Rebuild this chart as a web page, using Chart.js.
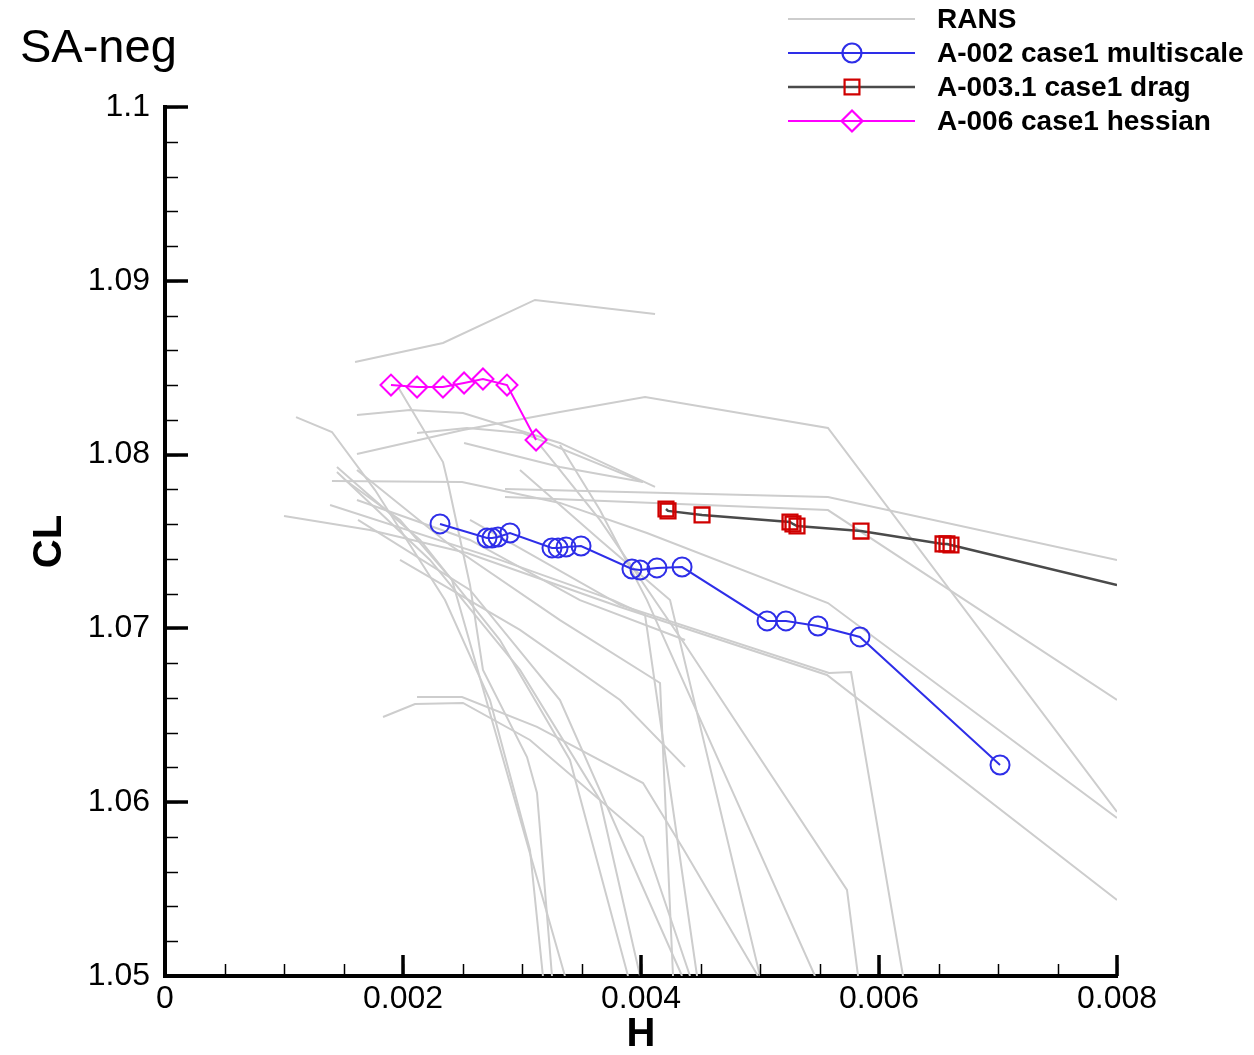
<!DOCTYPE html>
<html>
<head>
<meta charset="utf-8">
<script src="https://cdn.jsdelivr.net/npm/chart.js@4/dist/chart.umd.min.js"></script>
<style>
  html, body { margin: 0; padding: 0; background: #ffffff; }
  #wrap { width: 1254px; height: 1055px; position: relative; }
</style>
</head>
<body>
<div id="wrap"><canvas id="chart" width="1254" height="1055"></canvas></div>
<script>
// ---------------- data ----------------
const X_TICKS = [0, 0.002, 0.004, 0.006, 0.008];
const Y_TICKS = [1.05, 1.06, 1.07, 1.08, 1.09, 1.1];
const X_MINOR_STEP = 0.0005;
const Y_MINOR_STEP = 0.002;

const LEGEND_LABELS = ['RANS', 'A-002 case1 multiscale', 'A-003.1 case1 drag', 'A-006 case1 hessian'];

const A002_H  = [0.002311, 0.002706, 0.002748, 0.002798, 0.002899, 0.003252, 0.003303, 0.003370, 0.003496,
                 0.003924, 0.003992, 0.004134, 0.004345, 0.005059, 0.005218, 0.005487, 0.005840, 0.007017];
const A002_CL = [1.07601, 1.07520, 1.07520, 1.07526, 1.07549, 1.07463, 1.07463, 1.07468, 1.07474,
                 1.07342, 1.07336, 1.07348, 1.07353, 1.07043, 1.07043, 1.07014, 1.06951, 1.06214];

const A003_H  = [0.004210, 0.004227, 0.004513, 0.005252, 0.005277, 0.005311, 0.005849, 0.006538, 0.006571, 0.006605, 0.008];
const A003_CL = [1.07687, 1.07676, 1.07653, 1.07612, 1.07601, 1.07589, 1.07560, 1.07486, 1.07486, 1.07480, 1.07250];

const A006_H  = [0.001899, 0.002118, 0.002336, 0.002513, 0.002672, 0.002874, 0.003118];
const A006_CL = [1.08400, 1.08389, 1.08389, 1.08412, 1.08435, 1.08400, 1.08084];

// RANS curves: [H, CL] pairs
const RANS_CURVES = [
  [[0.001597,1.08533],[0.002336,1.08642],[0.003109,1.08890],[0.004118,1.08809]],
  [[0.001613,1.08228],[0.002059,1.08257],[0.002504,1.08239],[0.003319,1.08067],[0.004118,1.07814]],
  [[0.001613,1.08003],[0.002504,1.08142],[0.003319,1.08245],[0.004034,1.08331],[0.005571,1.08153],[0.008,1.05944]],
  [[0.002118,1.08124],[0.002538,1.08153],[0.003008,1.08124],[0.004017,1.07842]],
  [[0.002513,1.08067],[0.003319,1.07929],[0.004017,1.07842]],
  [[0.002857,1.07802],[0.005571,1.07756],[0.008,1.07394]],
  [[0.002857,1.07756],[0.005571,1.07681],[0.008,1.06588]],
  [[0.001403,1.07848],[0.002496,1.07842],[0.003319,1.07722],[0.004050,1.07549],[0.005571,1.07146],[0.008,1.05909]],
  [[0.001000,1.07647],[0.001723,1.07566],[0.002538,1.07434],[0.003824,1.07123],[0.005563,1.06732],[0.008,1.05437]],
  [[0.001958,1.08389],[0.002336,1.07957],[0.002378,1.07837],[0.002563,1.07250],[0.002672,1.06761],[0.003042,1.06260],[0.003126,1.06053],[0.003252,1.05]],
  [[0.001101,1.08216],[0.001403,1.08130],[0.001765,1.07796],[0.002353,1.07163],[0.002731,1.06588],[0.003067,1.05725],[0.003176,1.05]],
  [[0.002118,1.06605],[0.002496,1.06605],[0.003126,1.06433],[0.004017,1.06110],[0.004361,1.05725],[0.004983,1.05]],
  [[0.001832,1.06490],[0.002101,1.06565],[0.002504,1.06571],[0.003067,1.06358],[0.004017,1.05800],[0.004412,1.05]],
  [[0.001513,1.07854],[0.001975,1.07624],[0.002412,1.07279],[0.003361,1.05]],
  [[0.001445,1.07929],[0.002143,1.07509],[0.002815,1.06933],[0.003403,1.06243],[0.003891,1.05]],
  [[0.001445,1.07900],[0.002227,1.07394],[0.002983,1.06761],[0.003655,1.06013],[0.003992,1.05]],
  [[0.001613,1.07911],[0.002395,1.07480],[0.003319,1.07048],[0.004160,1.06686],[0.004269,1.05]],
  [[0.001387,1.07710],[0.002815,1.07394],[0.003765,1.07163],[0.004034,1.07077],[0.004471,1.05]],
  [[0.001622,1.07624],[0.002563,1.07221],[0.003319,1.06588],[0.004345,1.05]],
  [[0.001613,1.07739],[0.002563,1.07509],[0.003487,1.07163],[0.004370,1.06933]],
  [[0.001975,1.07394],[0.002983,1.06991],[0.003824,1.06588],[0.004370,1.06203]],
  [[0.002563,1.07624],[0.003824,1.07135],[0.005580,1.06743],[0.005765,1.06749],[0.006202,1.05]],
  [[0.003151,1.08055],[0.003655,1.07624],[0.004361,1.06916],[0.005731,1.05495],[0.005824,1.05]],
  [[0.003319,1.08055],[0.003655,1.07681],[0.004050,1.07163],[0.005462,1.05]],
  [[0.002983,1.07911],[0.003655,1.07509],[0.004244,1.07163],[0.005000,1.05]]
];

// ---------------- styles ----------------
const FONT = "'Liberation Sans', Arial, Helvetica, sans-serif";
const GRAY = '#cdcdcd';
const BLUE = '#2e2ee8';
const DARK = '#4a4a4a';
const RED = '#d00000';
const MAGENTA = '#ff00ff';

const toPts = (hs, cls) => hs.map((h, i) => ({ x: h, y: cls[i] }));

const datasets = [
  {
    label: LEGEND_LABELS[1], data: toPts(A002_H, A002_CL), showLine: true,
    borderColor: BLUE, borderWidth: 2, pointStyle: 'circle', pointRadius: 9.5,
    pointBorderWidth: 2, pointBorderColor: BLUE, pointBackgroundColor: 'rgba(0,0,0,0)', order: 0
  },
  {
    label: LEGEND_LABELS[2], data: toPts(A003_H, A003_CL), showLine: true,
    borderColor: DARK, borderWidth: 2.5, pointStyle: 'rect',
    pointRadius: (c) => (c.raw && c.raw.x >= 0.008 ? 0 : 10.5),
    pointBorderWidth: 2.3, pointBorderColor: RED, pointBackgroundColor: 'rgba(0,0,0,0)', order: 0
  },
  {
    label: LEGEND_LABELS[3], data: toPts(A006_H, A006_CL), showLine: true,
    borderColor: MAGENTA, borderWidth: 2, pointStyle: 'rectRot', pointRadius: 10.5,
    pointBorderWidth: 2, pointBorderColor: MAGENTA, pointBackgroundColor: 'rgba(0,0,0,0)', order: 0
  }
];
RANS_CURVES.forEach((curve) => {
  datasets.push({
    label: LEGEND_LABELS[0], data: curve.map(p => ({ x: p[0], y: p[1] })), showLine: true,
    borderColor: GRAY, borderWidth: 2, pointRadius: 0, order: 1
  });
});

// inward tick marks drawn through the scales
const inwardTicks = {
  id: 'inwardTicks',
  afterDatasetsDraw(chart) {
    const ctx = chart.ctx;
    const xs = chart.scales.x, ys = chart.scales.y;
    const area = chart.chartArea;
    ctx.save();
    ctx.strokeStyle = '#000';
    ctx.lineCap = 'butt';
    ctx.lineWidth = 1.5;
    for (let v = xs.min; v <= xs.max + 1e-12; v += X_MINOR_STEP) {
      const px = Math.round(xs.getPixelForValue(v)) + 0.5;
      ctx.beginPath(); ctx.moveTo(px, area.bottom); ctx.lineTo(px, area.bottom - 12); ctx.stroke();
    }
    for (let v = ys.min; v <= ys.max + 1e-12; v += Y_MINOR_STEP) {
      const py = Math.round(ys.getPixelForValue(v)) + 0.5;
      ctx.beginPath(); ctx.moveTo(area.left, py); ctx.lineTo(area.left + 13, py); ctx.stroke();
    }
    ctx.lineWidth = 3.5;
    X_TICKS.forEach(v => {
      const px = Math.round(xs.getPixelForValue(v));
      ctx.beginPath(); ctx.moveTo(px, area.bottom); ctx.lineTo(px, area.bottom - 21); ctx.stroke();
    });
    Y_TICKS.forEach(v => {
      const py = Math.round(ys.getPixelForValue(v));
      ctx.beginPath(); ctx.moveTo(area.left, py); ctx.lineTo(area.left + 23, py); ctx.stroke();
    });
    ctx.restore();
  }
};

function drawMarker(ctx, style, x, y, r) {
  ctx.beginPath();
  if (style === 'circle') {
    ctx.arc(x, y, r, 0, Math.PI * 2);
  } else if (style === 'rect') {
    const s = r * Math.SQRT1_2;
    ctx.rect(x - s, y - s, 2 * s, 2 * s);
  } else if (style === 'rectRot') {
    ctx.moveTo(x - r, y); ctx.lineTo(x, y - r); ctx.lineTo(x + r, y); ctx.lineTo(x, y + r); ctx.closePath();
  }
  ctx.stroke();
}

const cornerDecor = {
  id: 'cornerDecor',
  afterDraw(chart) {
    const ctx = chart.ctx;
    ctx.save();
    ctx.fillStyle = '#000';
    ctx.font = `47px ${FONT}`;
    ctx.textBaseline = 'alphabetic';
    ctx.textAlign = 'left';
    ctx.fillText('SA-neg', 20, 62);
    const rows = [
      { label: LEGEND_LABELS[0], line: GRAY, lw: 2, marker: null },
      { label: LEGEND_LABELS[1], line: BLUE, lw: 2, marker: 'circle', mc: BLUE, r: 9.5 },
      { label: LEGEND_LABELS[2], line: DARK, lw: 2.5, marker: 'rect', mc: RED, r: 10.5 },
      { label: LEGEND_LABELS[3], line: MAGENTA, lw: 2, marker: 'rectRot', mc: MAGENTA, r: 10.5 }
    ];
    rows.forEach((row, i) => {
      const y = 19 + i * 34;
      ctx.strokeStyle = row.line; ctx.lineWidth = row.lw;
      ctx.beginPath(); ctx.moveTo(788, y); ctx.lineTo(915, y); ctx.stroke();
      if (row.marker) {
        ctx.strokeStyle = row.mc; ctx.lineWidth = 2.2;
        drawMarker(ctx, row.marker, 852, y, row.r);
      }
      ctx.fillStyle = '#000';
      ctx.font = `bold 28px ${FONT}`;
      ctx.textBaseline = 'middle';
      ctx.fillText(row.label, 937, y + 1);
    });
    ctx.restore();
  }
};

new Chart(document.getElementById('chart'), {
  type: 'scatter',
  data: { datasets },
  options: {
    responsive: false,
    animation: false,
    devicePixelRatio: 1,
    events: [],
    layout: { padding: { left: 0, right: 137, top: 107, bottom: 0 } },
    plugins: { legend: { display: false }, tooltip: { enabled: false }, title: { display: false } },
    scales: {
      x: {
        type: 'linear', min: 0, max: 0.008,
        afterBuildTicks: (s) => { s.ticks = X_TICKS.map(v => ({ value: v })); },
        afterFit: (s) => { s.height = 79; },
        grid: { display: false, drawTicks: false },
        border: { display: true, color: '#000', width: 4 },
        ticks: {
          color: '#000', padding: 4, maxRotation: 0, autoSkip: false,
          font: { family: FONT, size: 32 },
          callback: (v) => String(Number(Number(v).toFixed(4)))
        },
        title: { display: true, text: 'H', color: '#000', font: { family: FONT, size: 40, weight: 'bold', lineHeight: 1 }, padding: { top: 0, bottom: 0 } }
      },
      y: {
        type: 'linear', min: 1.05, max: 1.1,
        afterBuildTicks: (s) => { s.ticks = Y_TICKS.map(v => ({ value: v })); },
        afterFit: (s) => { s.width = 165; },
        grid: { display: false, drawTicks: false },
        border: { display: true, color: '#000', width: 4 },
        ticks: {
          color: '#000', padding: 15, autoSkip: false,
          font: { family: FONT, size: 32 },
          callback: (v) => String(Number(Number(v).toFixed(3)))
        },
        title: { display: true, text: 'CL', color: '#000', font: { family: FONT, size: 40, weight: 'bold', lineHeight: 1 }, padding: { top: 30, bottom: 0 } }
      }
    }
  },
  plugins: [inwardTicks, cornerDecor]
});
</script>
</body>
</html>
